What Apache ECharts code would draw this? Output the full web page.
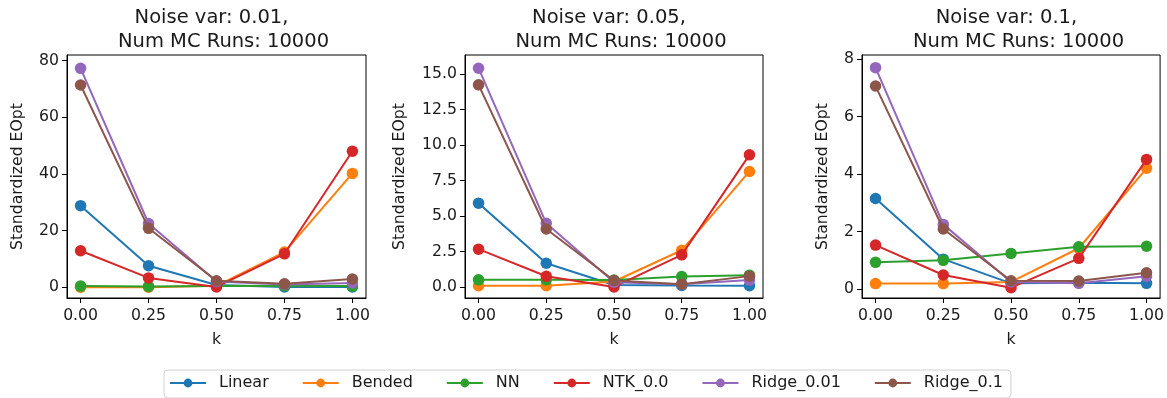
<!DOCTYPE html>
<html>
<head>
<meta charset="utf-8">
<script src="https://cdn.jsdelivr.net/npm/echarts@6/dist/echarts.min.js"></script>
<style>
html,body{margin:0;padding:0;background:#fff;}
#chart{width:1167px;height:398px;}
</style>
</head>
<body>
<div id="chart"></div>
<script>
// ---- data ----
const kValues = [0, 0.25, 0.5, 0.75, 1.0];
const seriesNames = ['Linear', 'Bended', 'NN', 'NTK_0.0', 'Ridge_0.01', 'Ridge_0.1'];
const noiseVars = ['0.01', '0.05', '0.1'];
const mcRuns = '10000';

// Noise var 0.01
const linear1 = [28.8, 7.6, 0.8, 0.1, 0.1];
const bended1 = [0.0, 0.0, 0.5, 12.4, 40.2];
const nn1     = [0.4, 0.3, 0.4, 0.5, 0.4];
const ntk1    = [12.9, 3.3, 0.1, 11.8, 48.0];
const ridge001_1 = [77.3, 22.5, 2.0, 1.0, 1.5];
const ridge01_1  = [71.4, 20.8, 2.3, 1.2, 2.9];

// Noise var 0.05
const linear2 = [5.92, 1.69, 0.16, 0.12, 0.1];
const bended2 = [0.1, 0.1, 0.4, 2.6, 8.15];
const nn2     = [0.52, 0.52, 0.5, 0.75, 0.85];
const ntk2    = [2.68, 0.77, 0.02, 2.28, 9.32];
const ridge001_2 = [15.42, 4.5, 0.35, 0.2, 0.5];
const ridge01_2  = [14.25, 4.1, 0.47, 0.21, 0.78];

// Noise var 0.1
const linear3 = [3.15, 1.04, 0.2, 0.22, 0.2];
const bended3 = [0.19, 0.19, 0.25, 1.42, 4.2];
const nn3     = [0.93, 1.0, 1.24, 1.47, 1.49];
const ntk3    = [1.53, 0.49, 0.05, 1.07, 4.51];
const ridge001_3 = [7.7, 2.25, 0.25, 0.2, 0.45];
const ridge01_3  = [7.06, 2.09, 0.29, 0.28, 0.57];

// tick labels
const xTicks = [0, 0.25, 0.5, 0.75, 1.0];
const yTicks1 = [0, 20, 40, 60, 80];
const yTicks2 = [0, 2.5, 5, 7.5, 10, 12.5, 15];
const yTicks3 = [0, 2, 4, 6, 8];

// ---- layout / style ----
const colors = ['#1f77b4', '#ff7f0e', '#2ca02c', '#d62728', '#9467bd', '#8c564b'];
const panelData = [
  [linear1, bended1, nn1, ntk1, ridge001_1, ridge01_1],
  [linear2, bended2, nn2, ntk2, ridge001_2, ridge01_2],
  [linear3, bended3, nn3, ntk3, ridge001_3, ridge01_3]
];
const grids = [
  {left: 67, top: 55, width: 299, height: 243},
  {left: 465, top: 55, width: 298, height: 243},
  {left: 862, top: 55, width: 299, height: 243}
];
const yRanges = [[-3.8, 82.0], [-0.76, 16.35], [-0.31, 8.14]];
const yTickSets = [yTicks1, yTicks2, yTicks3];
const yFormat = [v => String(Math.round(v)), v => v.toFixed(1), v => String(Math.round(v))];
const yNameGap = [41, 57, 31];
const FONT = 'DejaVu Sans';
const TXT = '#1a1a1a';

const title = [];
const grid = [];
const xAxis = [];
const yAxis = [];
const series = [];

grids.forEach((g, p) => {
  grid.push({left: g.left, top: g.top, width: g.width, height: g.height,
    show: true, borderColor: '#000', borderWidth: 1, backgroundColor: 'transparent', containLabel: false});
  const cx = g.left + g.width / 2;
  title.push({text: 'Noise var: ' + noiseVars[p] + ',', left: cx - 10, top: 3, textAlign: 'center',
    textStyle: {fontFamily: FONT, fontSize: 19.5, fontWeight: 'normal', color: TXT}});
  title.push({text: 'Num MC Runs: ' + mcRuns, left: cx + 2, top: 27, textAlign: 'center',
    textStyle: {fontFamily: FONT, fontSize: 19.5, fontWeight: 'normal', color: TXT}});
  xAxis.push({
    type: 'value', gridIndex: p, min: -0.05, max: 1.05,
    name: 'k', nameLocation: 'middle', nameGap: 34,
    nameTextStyle: {fontFamily: FONT, fontSize: 15.7, color: TXT},
    axisLine: {show: true, onZero: false, lineStyle: {color: '#000', width: 1}},
    axisTick: {show: true, inside: false, length: 5, customValues: xTicks, lineStyle: {color: '#000'}},
    axisLabel: {customValues: xTicks, margin: 10, fontFamily: FONT, fontSize: 15.7, color: TXT,
      formatter: v => v.toFixed(2)},
    splitLine: {show: false}
  });
  yAxis.push({
    type: 'value', gridIndex: p, min: yRanges[p][0], max: yRanges[p][1],
    name: 'Standardized EOpt', nameLocation: 'middle', nameGap: yNameGap[p],
    nameTextStyle: {fontFamily: FONT, fontSize: 15.7, color: TXT},
    axisLine: {show: true, onZero: false, lineStyle: {color: '#000', width: 1}},
    axisTick: {show: true, inside: false, length: 5, customValues: yTickSets[p], lineStyle: {color: '#000'}},
    axisLabel: {customValues: yTickSets[p], margin: 8, fontFamily: FONT, fontSize: 15.7, color: TXT,
      formatter: yFormat[p]},
    splitLine: {show: false}
  });
  panelData[p].forEach((vals, s) => {
    series.push({
      name: seriesNames[s], type: 'line', xAxisIndex: p, yAxisIndex: p,
      data: kValues.map((k, i) => [k, vals[i]]),
      symbol: 'circle', symbolSize: 11.5, showSymbol: true,
      lineStyle: {color: colors[s], width: 2},
      itemStyle: {color: colors[s]},
      emphasis: {disabled: true},
      z: 2 + s
    });
  });
});

const chart = echarts.init(document.getElementById('chart'), null, {renderer: 'canvas'});
chart.setOption({
  animation: false,
  backgroundColor: '#fff',
  color: colors,
  title: title,
  grid: grid,
  xAxis: xAxis,
  yAxis: yAxis,
  legend: {
    data: seriesNames,
    left: 164, top: 370,
    orient: 'horizontal',
    itemWidth: 36, itemHeight: 11, itemGap: 33,
    padding: [4, 8, 6, 5],
    borderColor: '#d0d0d0', borderWidth: 1, borderRadius: 4,
    backgroundColor: '#fff',
    textStyle: {fontFamily: FONT, fontSize: 16, color: TXT, padding: [0, 0, 0, 8], lineHeight: 18}
  },
  series: series
});
</script>
</body>
</html>
